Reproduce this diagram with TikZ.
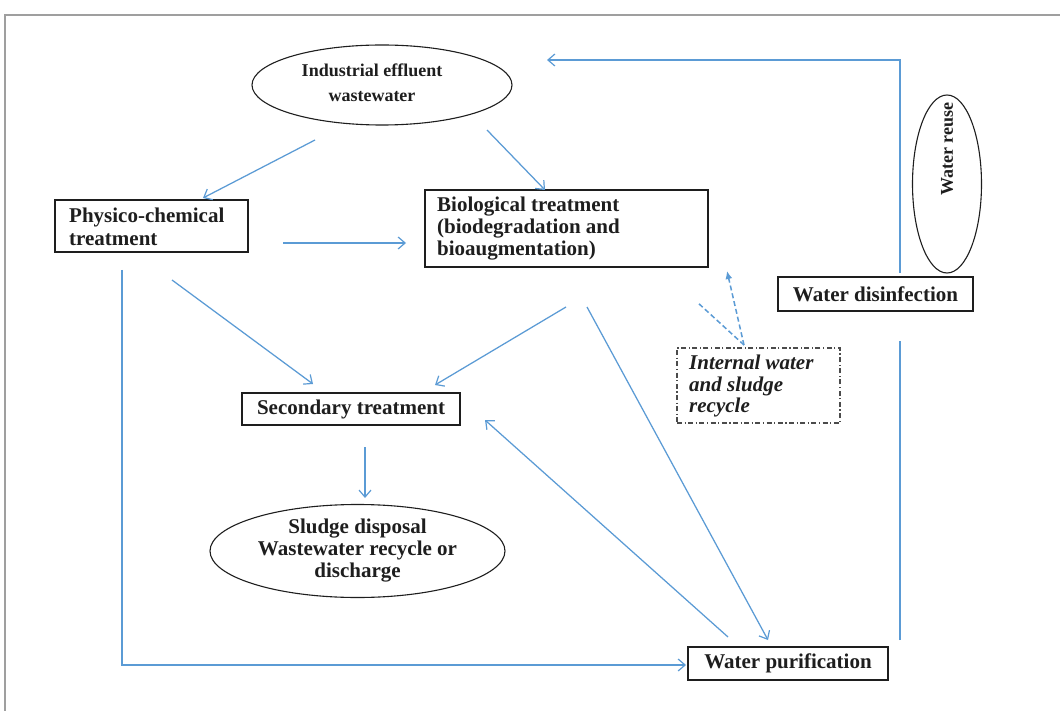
\documentclass[tikz,border=0pt]{standalone}
\usepackage{fontspec}
\setmainfont{Liberation Serif}
\usetikzlibrary{shapes.geometric,arrows.meta}
\definecolor{flow}{RGB}{91,155,213}
\definecolor{ink}{RGB}{30,30,30}
\begin{document}
\begin{tikzpicture}[x=1pt,y=-1pt,
  lbl/.style={font=\bfseries\fontsize{21}{22}\selectfont,text=ink,inner sep=0pt},
  box/.style={draw=ink,line width=1.2pt,rectangle,inner sep=0pt,lbl},
  oval/.style={draw=ink,line width=1.1pt,ellipse,inner sep=0pt,lbl,align=center},
  flowline/.style={draw=flow,line width=1.25pt},
  flowarrow/.style={flowline,-{Straight Barb[length=7pt,width=12pt,line width=1.2pt]}},
  dasharrow/.style={draw=flow,line width=1.5pt,dash pattern=on 5pt off 3pt}
]
\useasboundingbox (0,0) rectangle (1060,711);
\fill[white] (0,0) rectangle (1060,711);
% frame
\draw[gray!75,line width=1.6pt] (5,711) -- (5,15) -- (1060,15);

% nodes
\node[oval,minimum width=260pt,minimum height=80pt] (ie) at (382,85) {};
\node[lbl,align=center,font=\bfseries\fontsize{18}{25}\selectfont] (iet) at (372,83) {Industrial effluent\\wastewater};
\node[oval,rotate=90,minimum width=178pt,minimum height=69pt] (wr) at (947,184) {};
\node[lbl,rotate=90,font=\bfseries\fontsize{18}{20}\selectfont] (wrt) at (947,149) {Water reuse};
\node[box,minimum width=193pt,minimum height=52pt] (pc) at (151.5,226) {};
\node[lbl,font=\bfseries\fontsize{21}{23}\selectfont,align=left,anchor=west] (pct) at (69,227) {Physico-chemical\\treatment};
\node[box,minimum width=283pt,minimum height=77pt] (bt) at (566.5,228.5) {};
\node[lbl,align=left,anchor=west] (btt) at (437,229) {Biological treatment\\(biodegradation and\\bioaugmentation)};
\node[box,minimum width=195pt,minimum height=34pt] (wd) at (875.5,294) {Water disinfection};
\node[box,draw=ink!80,line width=1.1pt,dash pattern=on 5pt off 2.5pt on 1.2pt off 2.5pt,minimum width=163pt,minimum height=75pt] (iw) at (758.5,385.5) {};
\node[lbl,font=\bfseries\itshape\fontsize{21}{21.5}\selectfont,align=left,anchor=west] (iwt) at (689,386) {Internal water\\and sludge\\recycle};
\node[box,minimum width=218pt,minimum height=32pt] (st) at (351,409) {Secondary treatment};
\node[oval,minimum width=295pt,minimum height=93pt] (sd) at (357.5,551) {Sludge disposal\\Wastewater recycle or\\discharge};
\node[box,minimum width=200pt,minimum height=33pt] (wp) at (788,663.5) {Water purification};

% free ends
\coordinate (a1s) at (315,140); \coordinate (a1e) at (203,198);
\coordinate (a2s) at (487,130); \coordinate (a2e) at (545,190);
\coordinate (a3s) at (283,243); \coordinate (a3e) at (406,243);
\coordinate (a4s) at (172,280); \coordinate (a4e) at (313,384);
\coordinate (a5s) at (566,307); \coordinate (a5e) at (435,385);
\coordinate (a6s) at (587,307); \coordinate (a6e) at (768,640);
\coordinate (a7s) at (728,637); \coordinate (a7e) at (485,420);
\coordinate (a8s) at (365,447); \coordinate (a8e) at (365,498);
\coordinate (a9s) at (122,270); \coordinate (a9c) at (122,665); \coordinate (a9e) at (686,665);
\coordinate (b1s) at (900,640); \coordinate (b1e) at (900,341);
\coordinate (b2s) at (900,273); \coordinate (b2c) at (900,60); \coordinate (b2e) at (547,60);
\coordinate (d0) at (744,345); \coordinate (d1) at (697,302); \coordinate (d2) at (727,271);

% connectors
\draw[flowarrow] (a1s) -- (a1e);
\draw[flowarrow] (a2s) -- (a2e);
\draw[flowarrow] (a3s) -- (a3e);
\draw[flowarrow] (a4s) -- (a4e);
\draw[flowarrow] (a5s) -- (a5e);
\draw[flowarrow] (a6s) -- (a6e);
\draw[flowarrow] (a7s) -- (a7e);
\draw[flowarrow] (a8s) -- (a8e);
\draw[flowarrow] (a9s) -- (a9c) -- (a9e);
\draw[flowline] (b1s) -- (b1e);
\draw[flowarrow] (b2s) -- (b2c) -- (b2e);
\draw[dasharrow] (d0) -- (d1);
\draw[dasharrow,-{Latex[length=8pt,width=7pt]}] (d0) -- (d2);
\end{tikzpicture}
\end{document}
